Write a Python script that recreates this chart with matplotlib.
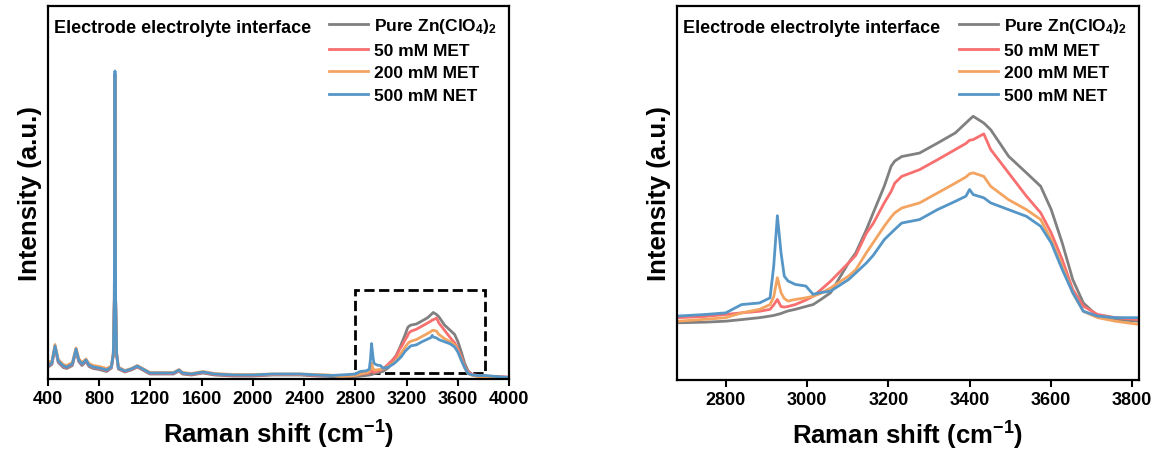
import matplotlib
matplotlib.use('Agg')
import matplotlib.pyplot as plt
from matplotlib.patches import Rectangle

plt.rcParams['font.family'] = 'Liberation Sans'
plt.rcParams['font.weight'] = 'bold'
plt.rcParams['mathtext.fontset'] = 'custom'
plt.rcParams['mathtext.rm'] = 'Liberation Sans:bold'
plt.rcParams['mathtext.bf'] = 'Liberation Sans:bold'
plt.rcParams['mathtext.default'] = 'bf'

# Raman shift grid (cm-1), shared by all spectra
shift = [400, 430, 455, 480, 520, 546, 590, 619, 640, 665, 697, 720, 754, 800, 858,
         895, 910, 918, 923, 928, 936, 950, 1000, 1050, 1097, 1140, 1196, 1300, 1380,
         1423, 1450, 1520, 1611, 1700, 1850, 2000, 2157, 2250, 2368, 2500, 2600,
         2682, 2750, 2800, 2839, 2883, 2909, 2918, 2927, 2936, 2944, 2953, 2971, 2997,
         3015, 3032, 3058, 3102, 3120, 3146, 3163, 3190, 3207, 3216, 3233, 3277, 3321,
         3365, 3391, 3400, 3409, 3435, 3452, 3496, 3540, 3575, 3601, 3628, 3654, 3680,
         3715, 3759, 3816, 3900, 4000]

pure = [12, 14.5, 31.5, 16.5, 11.5, 10.5, 13.5, 28.5, 17.5, 13.5, 17.5, 12.5, 10.5, 9.5, 7.5,
        11, 24, 78, 305, 78, 24, 10, 7, 9, 12, 9, 5, 5, 5, 8, 5, 4, 6, 4, 3, 3, 4, 4, 4, 3, 2.5,
        1.9, 2.1, 2.4, 2.9, 3.5, 4.0, 4.2, 4.5, 4.8, 5.2, 5.6, 6.1, 7.0,
        7.6, 9.0, 11.3, 20.6, 23.8, 31.0, 36.3, 44.6, 50.9, 52.5, 53.9, 55.0, 58.1,
        61.3, 64.4, 65.5, 66.5, 64.4, 62.3, 54.0, 48.8, 44.6, 37.3, 26.9, 15.4, 8.1,
        4.0, 2.9, 2.4, 2.0, 1.5]

met50 = [12.5, 15.5, 32.5, 17.5, 12.5, 11.5, 14.5, 29.5, 18.5, 14.5, 18.5, 13.5, 11.5, 10.5, 8.5,
         11.5, 24.5, 79, 302, 79, 24.5, 10.5, 7.5, 9.5, 12.5, 9.5, 5.5, 5.5, 5.5, 8.5, 5.5, 4.5, 6.5, 4.5, 3.5, 3.5, 4.5, 4.5, 4.5, 3.5, 3.5,
         3.5, 3.9, 4.5, 5.0, 5.5, 6.1, 7.5, 9.2, 7.0, 6.8, 7.0, 7.6, 9.0,
         10.2, 12.0, 14.9, 20.6, 23.0, 29.9, 33.0, 39.4, 43.0, 45.6, 47.7, 49.8, 52.9,
         56.1, 58.0, 59.0, 59.2, 61.0, 56.1, 48.8, 41.5, 36.3, 30.0, 21.7, 12.3, 7.1,
         4.5, 3.5, 2.9, 2.5, 2.0]

met200 = [17, 17.5, 34.5, 19.5, 14.5, 13.5, 16.5, 31, 20.5, 16.5, 20, 15.5, 13.5, 12.5, 10.5,
          13, 26, 80, 300, 80, 26, 12, 8.5, 10.5, 13.5, 10.5, 6.5, 6.5, 6.5, 9.5, 6.5, 5.5, 7.5, 5.5, 4.5, 4.5, 5, 5, 5, 4.5, 4,
          2.4, 3.0, 3.5, 5.0, 6.1, 7.6, 10.0, 16.0, 11.3, 9.5, 8.7, 9.2, 9.7,
          10.2, 11.0, 12.8, 16.5, 18.5, 23.8, 27.0, 32.1, 35.0, 36.3, 37.8, 39.4, 42.5,
          45.6, 47.5, 48.5, 48.8, 47.7, 44.6, 40.4, 37.3, 34.2, 27.9, 19.6, 11.3, 5.5,
          3.5, 2.4, 1.4, 1.8, 1.5]

net500 = [13, 16, 33, 18, 13, 12, 15, 30, 19, 15, 19, 14, 12, 11, 9,
          12, 25, 80, 308, 80, 25, 11, 8, 10, 13, 10, 6, 6, 6, 9, 6, 5, 7, 5, 4, 4, 5, 5, 5, 4, 3.5,
          4.0, 4.5, 5.0, 7.6, 8.1, 9.7, 19.6, 35.4, 23.8, 16.5, 15.0, 13.9, 13.4,
          10.8, 11.3, 11.8, 15.4, 17.5, 20.6, 23.0, 27.9, 30.0, 31.1, 33.1, 34.2, 37.3,
          39.9, 41.5, 43.6, 42.0, 41.0, 39.4, 37.3, 35.2, 32.1, 26.9, 18.6, 11.3, 5.5,
          4.0, 3.5, 3.5, 2.5, 1.5]

labels = ['Pure Zn(ClO$_4$)$_2$', '50 mM MET', '200 mM MET', '500 mM NET']
colors = ['#808080', '#f86f6f', '#f3a461', '#5596c7']
series = [pure, met50, met200, net500]

W, H = 1157, 452
fig = plt.figure(figsize=(W / 100, H / 100), dpi=100)
ax1 = fig.add_axes([48 / W, 1 - 380 / H, (509 - 48) / W, (380 - 7) / H])
ax2 = fig.add_axes([677 / W, 1 - 381 / H, (1139 - 677) / W, (381 - 7) / H])

for ax in (ax1, ax2):
    for y, c, lab in zip(series, colors, labels):
        ax.plot(shift, y, color=c, lw=2, label=lab)
    for s in ax.spines.values():
        s.set_linewidth(1.6)
    ax.set_yticks([])
    ax.tick_params(axis='x', direction='out', length=5, width=1.5, labelsize=13, pad=3)
    for t in ax.get_xticklabels():
        t.set_fontweight('bold')
    ax.set_xlabel('Raman shift (cm$^{-1}$)', fontsize=18.5, fontweight='bold', labelpad=8)
    ax.set_ylabel('Intensity (a.u.)', fontsize=18.5, fontweight='bold', labelpad=4)
    ax.text(0.013, 0.965, 'Electrode electrolyte interface', transform=ax.transAxes,
            fontsize=13, fontweight='bold', va='top', ha='left')
    leg = ax.legend(loc='upper right', bbox_to_anchor=(1.0, 1.005), frameon=False,
                    fontsize=12.5, handlelength=2.25, handletextpad=0.35, labelspacing=0.42,
                    borderaxespad=0.3)
    for t in leg.get_texts():
        t.set_fontweight('bold')

ax1.set_xlim(400, 4000)
ax1.set_ylim(0, 373)
ax1.set_xticks(range(400, 4001, 400))
ax1.add_patch(Rectangle((2800, 6), 1010, 83, fill=False, ec='black', lw=2, ls='--'))

ax2.set_xlim(2680, 3817)
ax2.set_ylim(-16, 101)
ax2.set_xticks(range(2800, 3801, 200))

fig.savefig('out.png', dpi=100)
